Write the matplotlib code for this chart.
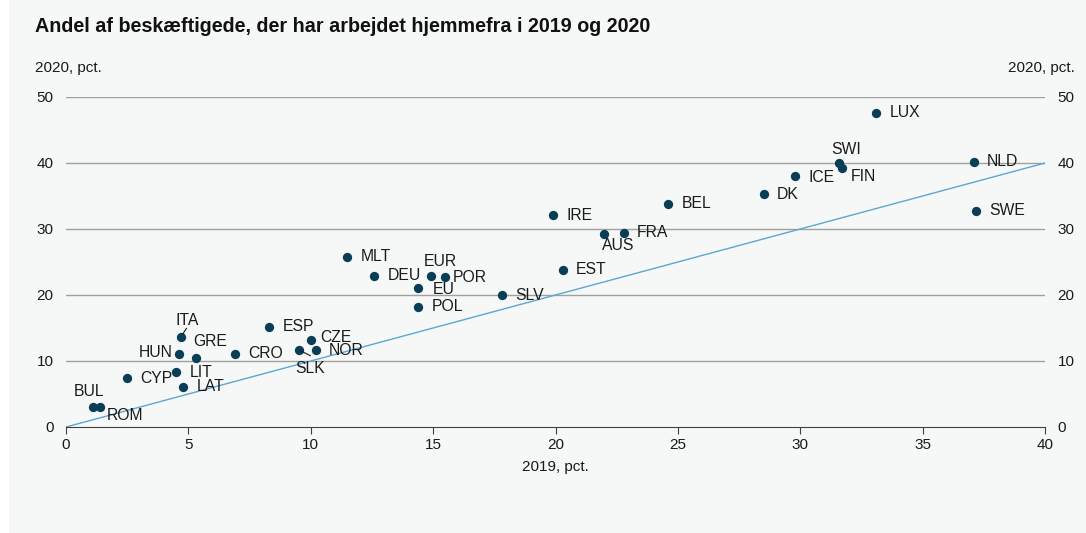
"""Scatter of home-working shares, 2019 vs 2020, by country."""

import matplotlib.pyplot as plt
from matplotlib.patches import Rectangle

plt.rcParams["font.family"] = ["Liberation Sans", "DejaVu Sans"]

countries = ["LUX", "SWI", "FIN", "ICE", "DK", "NLD", "SWE", "BEL", "IRE",
             "AUS", "FRA", "EST", "SLV", "MLT", "DEU", "EUR", "POR", "EU",
             "POL", "ESP", "CZE", "SLK", "NOR", "CRO", "ITA", "HUN", "GRE",
             "LIT", "LAT", "CYP", "BUL", "ROM"]
share_2019 = [33.1, 31.6, 31.7, 29.8, 28.5, 37.1, 37.2, 24.6, 19.9,
              22.0, 22.8, 20.3, 17.8, 11.5, 12.6, 14.9, 15.5, 14.4,
              14.4, 8.3, 10.0, 9.5, 10.2, 6.9, 4.7, 4.6, 5.3,
              4.5, 4.8, 2.5, 1.1, 1.4]
share_2020 = [47.6, 40.0, 39.2, 38.0, 35.3, 40.2, 32.8, 33.8, 32.1,
              29.2, 29.4, 23.8, 20.0, 25.8, 22.9, 22.9, 22.7, 21.1,
              18.2, 15.2, 13.2, 11.7, 11.6, 11.1, 13.7, 11.1, 10.5,
              8.3, 6.1, 7.4, 3.0, 3.1]

# label offsets in points (dx, dy, ha); default is right of the marker
label_offsets = {
    "SWI": (5, 10, "center"),
    "AUS": (-2, -8, "left"),
    "EUR": (7, 10, "center"),
    "EU": (10, -1, "left"),
    "POR": (5, 0, "left"),
    "FIN": (6.5, -6, "left"),
    "ICE": (9.5, -1, "left"),
    "ITA": (4.5, 11.5, "center"),
    "HUN": (-4.5, 1, "right"),
    "GRE": (-1.5, 11.5, "left"),
    "LIT": (9.5, 0, "left"),
    "BUL": (-3, 11, "center"),
    "ROM": (5, -6.5, "left"),
    "CZE": (6.5, 2, "left"),
    "SLK": (8.6, -13.5, "center"),
}
leader_lines = {"ITA": (4, 6), "SLK": (8.6, -4.3)}

dot_color = "#0a3d56"
line_color = "#5aa7d3"
grid_color = "#a0a0a0"
bg_color = "#f6f8f8"

fig = plt.figure(figsize=(10.86, 5.33), dpi=100, facecolor="white")
fig.patches.append(Rectangle((9 / 1086, 0), 1, 1, transform=fig.transFigure,
                             facecolor=bg_color, edgecolor="none", zorder=-10))
ax = fig.add_axes([66 / 1086, 1 - 427 / 533, 979 / 1086, 330 / 533])
ax.set_facecolor(bg_color)

ax.set_xlim(0, 40)
ax.set_ylim(0, 50)
ax.set_xticks(range(0, 41, 5))
ax.set_yticks(range(0, 51, 10))
for y in range(10, 51, 10):
    ax.axhline(y, color=grid_color, linewidth=1, zorder=1)

ax.plot([0, 40], [0, 40], color=line_color, linewidth=1, zorder=2)
ax.scatter(share_2019, share_2020, s=45, color=dot_color, zorder=3,
           linewidths=0)

for name, x, y in zip(countries, share_2019, share_2020):
    dx, dy, ha = label_offsets.get(name, (9.5, 0, "left"))
    ax.annotate(name, (x, y), xytext=(dx, dy), textcoords="offset points",
                ha=ha, va="center", fontsize=11.3, color="#1a1a1a", zorder=4)
    if name in leader_lines:
        lx, ly = leader_lines[name]
        ax.annotate("", (x, y), xytext=(lx, ly), textcoords="offset points",
                    arrowprops=dict(arrowstyle="-", color="#1a1a1a", lw=0.8,
                                    shrinkA=0, shrinkB=2))

for side in ["top", "left", "right"]:
    ax.spines[side].set_visible(False)
ax.spines["bottom"].set_color("#404040")
ax.tick_params(axis="x", direction="out", length=5, color="#404040",
               labelsize=11, pad=3, labelcolor="#1a1a1a")
ax.tick_params(axis="y", length=0, labelsize=11, pad=9,
               labelcolor="#1a1a1a", labelright=True)
ax.set_xlabel("2019, pct.", fontsize=11, labelpad=6, color="#1a1a1a")

fig.text(35 / 1086, 1 - 68 / 533, "2020, pct.", fontsize=11,
         va="center", ha="left", color="#1a1a1a")
fig.text(1075 / 1086, 1 - 68 / 533, "2020, pct.", fontsize=11,
         va="center", ha="right", color="#1a1a1a")
fig.text(35 / 1086, 1 - 27 / 533,
         "Andel af beskæftigede, der har arbejdet hjemmefra i 2019 og 2020",
         fontsize=14.2, fontweight="bold", va="center", ha="left",
         color="#111111")

fig.savefig("out.png", dpi=100, facecolor=fig.get_facecolor())
